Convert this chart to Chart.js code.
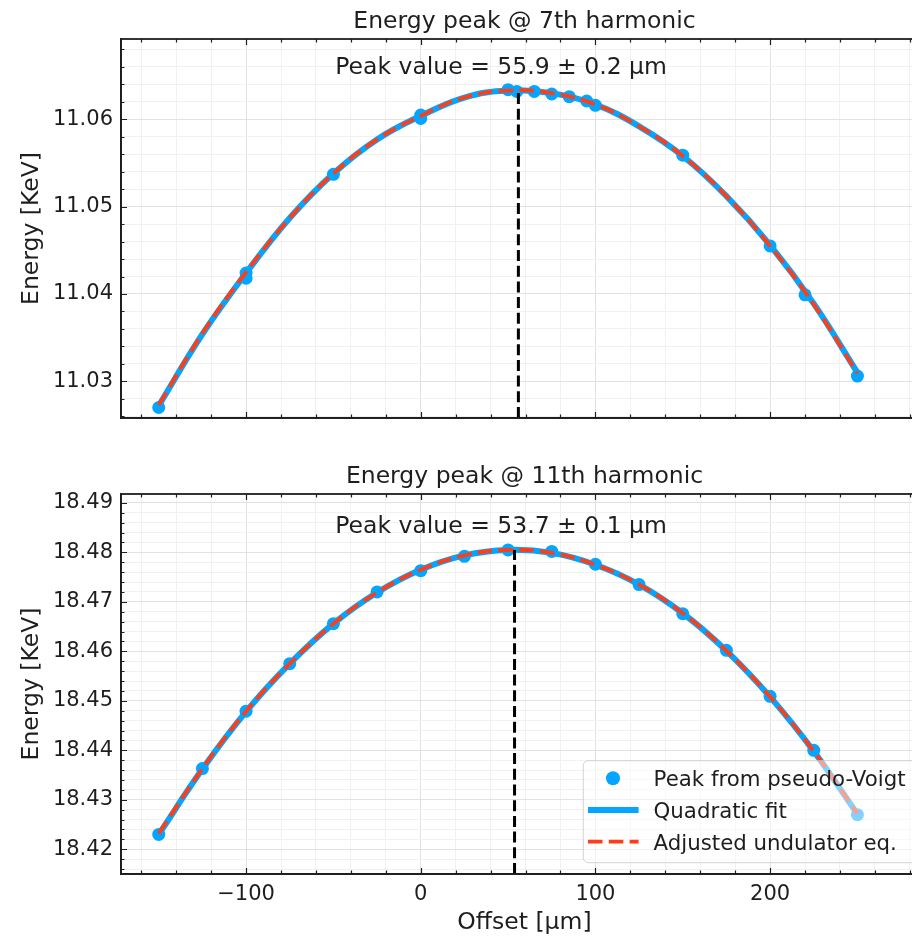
<!DOCTYPE html>
<html>
<head>
<meta charset="utf-8">
<title>Energy peak</title>
<script src="https://cdn.jsdelivr.net/npm/chart.js@4"></script>
<style>
    html, body { margin: 0; padding: 0; overflow: hidden; background: #fff; }
    #wrap { position: relative; width: 912px; height: 937px; overflow: hidden; }
    .panel { position: absolute; left: 0; }
</style>
</head>
<body>
<div id="wrap">
    <div class="panel" style="top:0"><canvas id="chart7" width="940" height="440"></canvas></div>
    <div class="panel" style="top:440px"><canvas id="chart11" width="940" height="497"></canvas></div>
</div>

<script>
// _+_+_+_+_+_+_+_+_ DATA _+_+_+_+_+_+_+_+_
const fitOffsets = [-150, -125, -100, -75, -50, -25, 0, 25, 50, 75, 100, 125, 150, 175, 200, 225, 250];

// 7th harmonic
const offsets7 = [-150, -100, -100, -50, 0, 0, 50, 55, 65, 75, 85, 95, 100, 150, 200, 220, 250];
const energy7 = [11.0270, 11.0424, 11.0418, 11.0537, 11.0605, 11.0601, 11.0634, 11.0632, 11.0632, 11.0629, 11.0626, 11.0621, 11.0616, 11.0559, 11.0455, 11.0399, 11.0306];
const quadFit7 = [11.0272, 11.0354, 11.0424, 11.0487, 11.0538, 11.0577, 11.0604, 11.0625, 11.0633, 11.0630, 11.0617, 11.0592, 11.0558, 11.0512, 11.0456, 11.0389, 11.0310];
const undulator7 = [11.0273, 11.0355, 11.0425, 11.0487, 11.0538, 11.0577, 11.0604, 11.0625, 11.0633, 11.0630, 11.0617, 11.0592, 11.0558, 11.0512, 11.0455, 11.0388, 11.0309];
const peakOffset7 = 55.9;
const peakEnergy7 = 11.0633;

// 11th harmonic
const offsets11 = [-150, -125, -100, -75, -50, -25, 0, 25, 50, 75, 100, 125, 150, 175, 200, 225, 250];
const energy11 = [18.4230, 18.4363, 18.4479, 18.4575, 18.4656, 18.4720, 18.4763, 18.4792, 18.4805, 18.4802, 18.4776, 18.4735, 18.4676, 18.4602, 18.4509, 18.4400, 18.4270];
const quadFit11 = [18.4230, 18.4362, 18.4478, 18.4575, 18.4656, 18.4719, 18.4765, 18.4794, 18.4805, 18.4799, 18.4775, 18.4735, 18.4677, 18.4601, 18.4508, 18.4398, 18.4271];
const undulator11 = [18.4232, 18.4363, 18.4479, 18.4575, 18.4656, 18.4719, 18.4765, 18.4794, 18.4805, 18.4799, 18.4775, 18.4735, 18.4677, 18.4601, 18.4508, 18.4398, 18.4272];
const peakOffset11 = 53.7;
const peakEnergy11 = 18.4805;

// axis limits and tick spacing
const xLimits = [-171.6, 290.4];
const yLimits7 = [11.0258, 11.0692];
const yLimits11 = [18.4150, 18.4918];
const xMajor = 100, xMinor = 20;
const yMajor = 0.01, yMinor = 0.002;

const legendLabels = ['Peak from pseudo-Voigt', 'Quadratic fit', 'Adjusted undulator eq.'];

const BLUE = '#04a5ff';
const RED = '#ff3d17';
const INK = '#1e1e1e';
const FONT = '"DejaVu Sans", "Liberation Sans", sans-serif';

// _+_+_+_+_+_+_+_+_ HELPERS _+_+_+_+_+_+_+_+_
const toXY = (xs, ys) => xs.map((x, i) => ({ x: x, y: ys[i] }));

function isMajorX(v) { return Math.abs(v / xMajor - Math.round(v / xMajor)) < 1e-6; }
function isMajorY(v) { return Math.abs(v / yMajor - Math.round(v / yMajor)) < 1e-6; }

function minusSign(s) { return String(s).replace('-', '\u2212'); }

// draws the inward ticks, frame, titles, annotation and (optionally) legend
const framePlugin = {
    id: 'frame',
    afterDatasetsDraw(chart, args, opts) {
        const { ctx, chartArea: a, scales: { x, y } } = chart;
        ctx.save();
        ctx.strokeStyle = INK;
        ctx.lineWidth = 1.2;
        ctx.beginPath();
        x.ticks.forEach(t => {
            const px = Math.round(x.getPixelForValue(t.value)) + 0.5;
            const len = isMajorX(t.value) ? 6 : 3.5;
            ctx.moveTo(px, a.bottom); ctx.lineTo(px, a.bottom - len);
            ctx.moveTo(px, a.top); ctx.lineTo(px, a.top + len);
        });
        y.ticks.forEach(t => {
            const py = Math.round(y.getPixelForValue(t.value)) + 0.5;
            const len = isMajorY(t.value) ? 6 : 3.5;
            ctx.moveTo(a.left, py); ctx.lineTo(a.left + len, py);
            ctx.moveTo(a.right, py); ctx.lineTo(a.right - len, py);
        });
        ctx.stroke();

        ctx.lineWidth = 1.8;
        ctx.strokeRect(a.left, a.top, a.right - a.left, a.bottom - a.top);
        ctx.restore();
    },
    afterDraw(chart, args, opts) {
        const { ctx, chartArea: a, scales: { x, y } } = chart;
        const cx = (a.left + a.right) / 2;
        ctx.save();
        ctx.fillStyle = INK;

        // title
        ctx.font = '23.5px ' + FONT;
        ctx.textAlign = 'center';
        ctx.textBaseline = 'alphabetic';
        ctx.fillText(opts.title, cx, a.top - 11.5);

        // peak annotation, sits just above the peak
        ctx.fillText(opts.note, x.getPixelForValue(opts.noteX), y.getPixelForValue(opts.noteY) - 16.5);

        // y label
        ctx.save();
        ctx.translate(37.6, (a.top + a.bottom) / 2);
        ctx.rotate(-Math.PI / 2);
        ctx.fillText('Energy [KeV]', 0, 0);
        ctx.restore();

        // x label
        if (opts.xlabel) ctx.fillText(opts.xlabel, cx, a.bottom + 54.5);

        // legend
        if (opts.legend) {
            const lx = a.right - 344.7, ly = a.bottom - 113.3, lw = 336, lh = 102;
            ctx.beginPath();
            if (ctx.roundRect) ctx.roundRect(lx, ly, lw, lh, 5); else ctx.rect(lx, ly, lw, lh);
            ctx.fillStyle = 'rgba(255,255,255,0.5)';
            ctx.fill();
            ctx.strokeStyle = 'rgba(200,200,200,0.8)';
            ctx.lineWidth = 1;
            ctx.stroke();

            const rows = [ly + 17.6, ly + 49.3, ly + 81];
            // marker
            ctx.fillStyle = BLUE;
            ctx.beginPath();
            ctx.arc(lx + 29.7, rows[0], 7, 0, Math.PI * 2);
            ctx.fill();
            // quadratic fit handle
            ctx.strokeStyle = BLUE;
            ctx.lineWidth = 6;
            ctx.beginPath();
            ctx.moveTo(lx + 4.7, rows[1]); ctx.lineTo(lx + 55.3, rows[1]);
            ctx.stroke();
            // undulator handle
            ctx.strokeStyle = RED;
            ctx.lineWidth = 3.8;
            ctx.setLineDash([14.5, 6.3]);
            ctx.beginPath();
            ctx.moveTo(lx + 4.7, rows[2]); ctx.lineTo(lx + 55.3, rows[2]);
            ctx.stroke();
            ctx.setLineDash([]);

            ctx.fillStyle = INK;
            ctx.font = '21.3px ' + FONT;
            ctx.textAlign = 'left';
            legendLabels.forEach((t, i) => ctx.fillText(t, lx + 70.3, rows[i] + 7.8));
        }
        ctx.restore();
    }
};

// _+_+_+_+_+_+_+_+_ CHART BUILDER _+_+_+_+_+_+_+_+_
function buildChart(canvasId, opt) {

    const gridColor = major => major ? '#e2e2e2' : '#f1f1f1';

    return new Chart(document.getElementById(canvasId), {
        type: 'scatter',
        data: {
            datasets: [
                {
                    label: legendLabels[2],
                    data: toXY(fitOffsets, opt.undulator),
                    showLine: true,
                    borderColor: RED,
                    borderWidth: 3.8,
                    borderDash: [14.5, 6.3],
                    pointRadius: 0,
                    tension: 0.4,
                    order: 0
                },
                {
                    label: 'peak',
                    data: toXY([opt.peakX, opt.peakX], [opt.yLimits[0], opt.peakY]),
                    showLine: true,
                    borderColor: '#000',
                    borderWidth: 3,
                    borderDash: [11, 4.7],
                    pointRadius: 0,
                    order: 1
                },
                {
                    label: legendLabels[1],
                    data: toXY(fitOffsets, opt.fit),
                    showLine: true,
                    borderColor: BLUE,
                    borderWidth: 6,
                    pointRadius: 0,
                    tension: 0.4,
                    order: 2
                },
                {
                    label: legendLabels[0],
                    data: toXY(opt.offsets, opt.energy),
                    showLine: false,
                    backgroundColor: BLUE,
                    borderWidth: 0,
                    pointRadius: 6.5,
                    order: 3
                }
            ]
        },
        options: {
            responsive: false,
            animation: false,
            events: [],
            layout: { padding: { top: opt.padTop, right: 12, bottom: 0, left: 0 } },
            plugins: {
                legend: { display: false },
                tooltip: { enabled: false },
                frame: {
                    title: opt.title,
                    note: opt.note,
                    noteX: 46,
                    noteY: opt.peakY,
                    xlabel: opt.xlabel,
                    legend: opt.legend
                }
            },
            scales: {
                x: {
                    type: 'linear',
                    min: xLimits[0],
                    max: xLimits[1],
                    afterBuildTicks(scale) {
                        const ticks = [];
                        for (let k = Math.ceil(scale.min / xMinor); k * xMinor <= scale.max; k++) ticks.push({ value: k * xMinor });
                        scale.ticks = ticks;
                    },
                    afterFit(scale) { scale.height = opt.xAxisHeight; },
                    ticks: {
                        autoSkip: false,
                        maxRotation: 0,
                        minRotation: 0,
                        padding: 8,
                        color: INK,
                        font: { family: FONT, size: 21 },
                        callback: v => (opt.xlabel && isMajorX(v)) ? minusSign(Math.round(v)) : ''
                    },
                    grid: {
                        drawTicks: false,
                        color: c => gridColor(c.tick && isMajorX(c.tick.value)),
                        lineWidth: 1
                    },
                    border: { display: true, color: INK, width: 1.8 }
                },
                y: {
                    type: 'linear',
                    min: opt.yLimits[0],
                    max: opt.yLimits[1],
                    afterBuildTicks(scale) {
                        const ticks = [];
                        for (let k = Math.ceil(scale.min / yMinor - 1e-9); k * yMinor <= scale.max + 1e-12; k++) ticks.push({ value: +(k * yMinor).toFixed(4) });
                        scale.ticks = ticks;
                    },
                    afterFit(scale) { scale.width = 121; },
                    ticks: {
                        autoSkip: false,
                        padding: 8,
                        color: INK,
                        font: { family: FONT, size: 21 },
                        callback: v => isMajorY(v) ? v.toFixed(2) : ''
                    },
                    grid: {
                        drawTicks: false,
                        color: c => gridColor(c.tick && isMajorY(c.tick.value)),
                        lineWidth: 1
                    },
                    border: { display: true, color: INK, width: 1.8 }
                }
            }
        },
        plugins: [framePlugin]
    });
}

// _+_+_+_+_+_+_+_+_ DRAW BOTH PANELS _+_+_+_+_+_+_+_+_
buildChart('chart7', {
    offsets: offsets7, energy: energy7, fit: quadFit7, undulator: undulator7,
    peakX: peakOffset7, peakY: peakEnergy7, yLimits: yLimits7,
    title: 'Energy peak @ 7th harmonic',
    note: 'Peak value = 55.9 ± 0.2 µm',
    xlabel: '', legend: false,
    padTop: 39, xAxisHeight: 22
});

buildChart('chart11', {
    offsets: offsets11, energy: energy11, fit: quadFit11, undulator: undulator11,
    peakX: peakOffset11, peakY: peakEnergy11, yLimits: yLimits11,
    title: 'Energy peak @ 11th harmonic',
    note: 'Peak value = 53.7 ± 0.1 µm',
    xlabel: 'Offset [µm]', legend: true,
    padTop: 54, xAxisHeight: 63
});
</script>
</body>
</html>
